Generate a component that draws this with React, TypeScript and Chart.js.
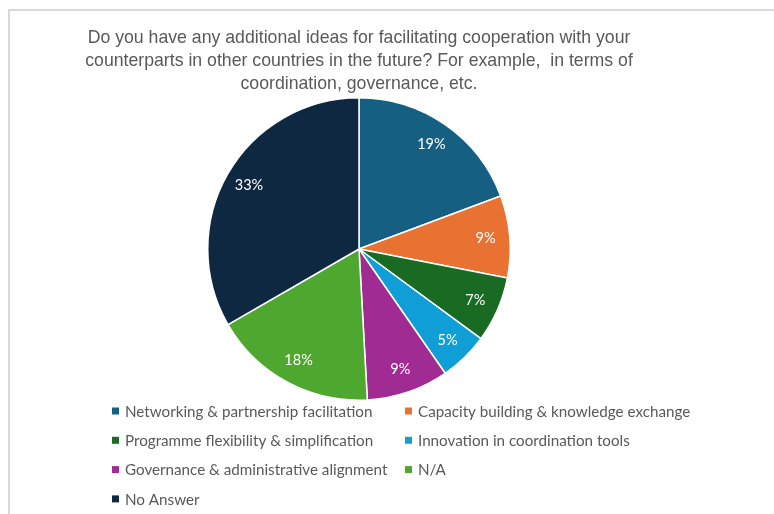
import React, { useEffect, useRef } from "react";
import { Chart, registerables } from "chart.js";

Chart.register(...registerables);

const titleLines = [
  "Do you have any additional ideas for facilitating cooperation with your",
  "counterparts in other countries in the future? For example,  in terms of",
  "coordination, governance, etc.",
];

const categories = [
  "Networking & partnership facilitation",
  "Capacity building & knowledge exchange",
  "Programme flexibility & simplification",
  "Innovation in coordination tools",
  "Governance & administrative alignment",
  "N/A",
  "No Answer",
];

const counts = [11, 5, 4, 3, 5, 10, 19];

const sliceColors = [
  "#156082",
  "#E97132",
  "#196B24",
  "#0F9ED5",
  "#A02B93",
  "#4EA72E",
  "#0E2841",
];

const TITLE_FONT = '17.7px "Liberation Sans", Arial, sans-serif';
const LEGEND_FONT = '15.2px Lato, "Open Sans", sans-serif';
const LABEL_FONT = '14.5px Lato, "Open Sans", sans-serif';
const TEXT_GRAY = "#595959";

const overlayPlugin = {
  id: "overlay",
  afterDatasetsDraw(chart: any) {
    const ctx = chart.ctx as CanvasRenderingContext2D;
    const meta = chart.getDatasetMeta(0);
    const data = chart.data.datasets[0].data as number[];
    const total = data.reduce((a, b) => a + b, 0);
    ctx.save();
    ctx.font = LABEL_FONT;
    ctx.fillStyle = "#ffffff";
    ctx.textAlign = "center";
    ctx.textBaseline = "middle";
    meta.data.forEach((arc: any, i: number) => {
      const p = arc.getProps(["x", "y", "startAngle", "endAngle", "outerRadius"], true);
      const mid = (p.startAngle + p.endAngle) / 2;
      const r = p.outerRadius * 0.84;
      const pct = Math.round((data[i] / total) * 100) + "%";
      ctx.fillText(pct, p.x + Math.cos(mid) * r, p.y + Math.sin(mid) * r);
    });
    ctx.restore();
  },
  afterDraw(chart: any) {
    const ctx = chart.ctx as CanvasRenderingContext2D;
    ctx.save();
    // title
    ctx.font = TITLE_FONT;
    ctx.fillStyle = TEXT_GRAY;
    ctx.textAlign = "center";
    ctx.textBaseline = "alphabetic";
    titleLines.forEach((line, i) => {
      ctx.fillText(line, 359, 43 + i * 23);
    });
    // legend
    const labels = chart.data.labels as string[];
    const colors = chart.data.datasets[0].backgroundColor as string[];
    const colX = [112, 405];
    ctx.font = LEGEND_FONT;
    ctx.textAlign = "left";
    ctx.textBaseline = "middle";
    labels.forEach((lab, i) => {
      const col = i % 2;
      const row = Math.floor(i / 2);
      const x = colX[col];
      const y = 411 + row * 29.3;
      ctx.fillStyle = colors[i];
      ctx.fillRect(x, y - 3.5, 7, 7);
      ctx.fillStyle = TEXT_GRAY;
      ctx.fillText(lab, x + 13, y + 1);
    });
    ctx.restore();
  },
};

export default function App() {
  const ref = useRef<HTMLCanvasElement | null>(null);
  useEffect(() => {
    if (!ref.current) return;
    const chart = new Chart(ref.current, {
      type: "pie",
      data: {
        labels: categories,
        datasets: [
          {
            data: counts,
            backgroundColor: sliceColors,
            borderColor: "#ffffff",
            borderWidth: 1.5,
          },
        ],
      },
      options: {
        animation: false,
        responsive: false,
        maintainAspectRatio: false,
        layout: { padding: { top: 97, bottom: 113, left: 207, right: 263 } },
        plugins: {
          legend: { display: false },
          title: { display: false },
          tooltip: { enabled: false },
        },
      },
      plugins: [overlayPlugin],
    });
    return () => chart.destroy();
  }, []);

  return (
    <div style={{ position: "fixed", left: 0, top: 0, width: 774, height: 514, overflow: "hidden", background: "#fff" }}>
      <canvas ref={ref} width={774} height={514} style={{ position: "absolute", left: 0, top: 0, width: 774, height: 514 }} />
      <div
        style={{
          position: "absolute",
          left: 8,
          top: 9,
          width: 800,
          height: 600,
          borderTop: "2px solid #d9d9d9",
          borderLeft: "2px solid #d9d9d9",
          pointerEvents: "none",
        }}
      />
    </div>
  );
}
